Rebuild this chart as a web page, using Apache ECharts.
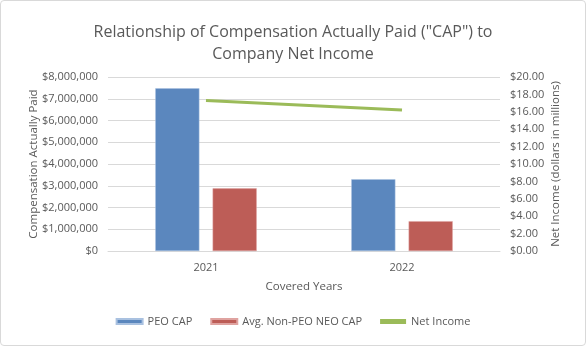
<!DOCTYPE html>
<html><head><meta charset="utf-8">
<script src="https://cdn.jsdelivr.net/npm/echarts@6/dist/echarts.min.js"></script>
<style>
html,body{margin:0;padding:0;background:#fff;}
#c{width:584px;height:344px;border:1px solid #d9d9d9;border-radius:4px;}
</style></head><body>
<div id="c"></div>
<script>
const categories = ['2021', '2022'];
const peoCap = [7480000, 3300000];
const nonPeoCap = [2880000, 1370000];
const netIncome = [17.3, 16.2];
const leftTicks = { min: 0, max: 8000000, interval: 1000000 };
const rightTicks = { min: 0, max: 20, interval: 2 };

const font = 'Open Sans, Noto Sans, sans-serif';
const grey = '#595959';
const chart = echarts.init(document.getElementById('c'), null, { renderer: 'canvas' });
chart.setOption({
  animation: false,
  textStyle: { fontFamily: font },
  title: {
    text: 'Relationship of Compensation Actually Paid ("CAP") to\nCompany Net Income',
    left: 'center', top: 15,
    textStyle: { fontFamily: font, fontSize: 16, fontWeight: 'normal', color: grey, lineHeight: 22 }
  },
  legend: {
    bottom: 13, left: 'center', itemGap: 18, itemWidth: 26, itemHeight: 5,
    textStyle: { fontFamily: font, fontSize: 11, color: grey },
    data: [
      { name: 'PEO CAP', icon: 'rect' },
      { name: 'Avg. Non-PEO NEO CAP', icon: 'rect' },
      { name: 'Net Income', icon: 'rect', itemStyle: { color: '#9bbb59' } }
    ]
  },
  grid: { left: 107, right: 85, top: 76, bottom: 94, containLabel: false },
  xAxis: {
    type: 'category', data: categories,
    name: 'Covered Years', nameLocation: 'middle', nameGap: 30,
    nameTextStyle: { fontFamily: font, fontSize: 11.5, color: grey },
    axisLine: { lineStyle: { color: '#d9d9d9' } },
    axisTick: { show: false },
    axisLabel: { fontFamily: font, fontSize: 11, color: grey, margin: 11 }
  },
  yAxis: [{
    type: 'value', min: leftTicks.min, max: leftTicks.max, interval: leftTicks.interval,
    name: 'Compensation Actually Paid', nameLocation: 'middle', nameGap: 68, nameRotate: 90,
    nameMoveOverlap: false,
    nameTextStyle: { fontFamily: font, fontSize: 11.5, color: grey },
    axisLine: { show: false }, axisTick: { show: false },
    splitLine: { lineStyle: { color: '#d9d9d9' } },
    axisLabel: { fontFamily: font, fontSize: 11, color: grey, margin: 10,
      formatter: v => '$' + v.toLocaleString('en-US') }
  }, {
    type: 'value', min: rightTicks.min, max: rightTicks.max, interval: rightTicks.interval,
    name: 'Net Income (dollars in millions)', nameLocation: 'middle', nameGap: 50, nameRotate: 90,
    nameMoveOverlap: false,
    nameTextStyle: { fontFamily: font, fontSize: 11.5, color: grey },
    axisLine: { show: false }, axisTick: { show: false },
    splitLine: { show: false },
    axisLabel: { fontFamily: font, fontSize: 11, color: grey, margin: 10,
      formatter: v => '$' + v.toFixed(2) }
  }],
  series: [
    { name: 'PEO CAP', type: 'bar', data: peoCap, barWidth: '22.5%', barGap: '30%',
      itemStyle: { color: '#5b87be', borderColor: '#a9c1e0', borderWidth: 0.5 } },
    { name: 'Avg. Non-PEO NEO CAP', type: 'bar', data: nonPeoCap, barWidth: '22.5%',
      itemStyle: { color: '#bd5d57', borderColor: '#dfa3a0', borderWidth: 0.5 } },
    { name: 'Net Income', type: 'line', yAxisIndex: 1, data: netIncome,
      symbol: 'none', lineStyle: { color: '#9bbb59', width: 3 }, itemStyle: { color: '#9bbb59' } }
  ]
});
</script>
</body></html>
